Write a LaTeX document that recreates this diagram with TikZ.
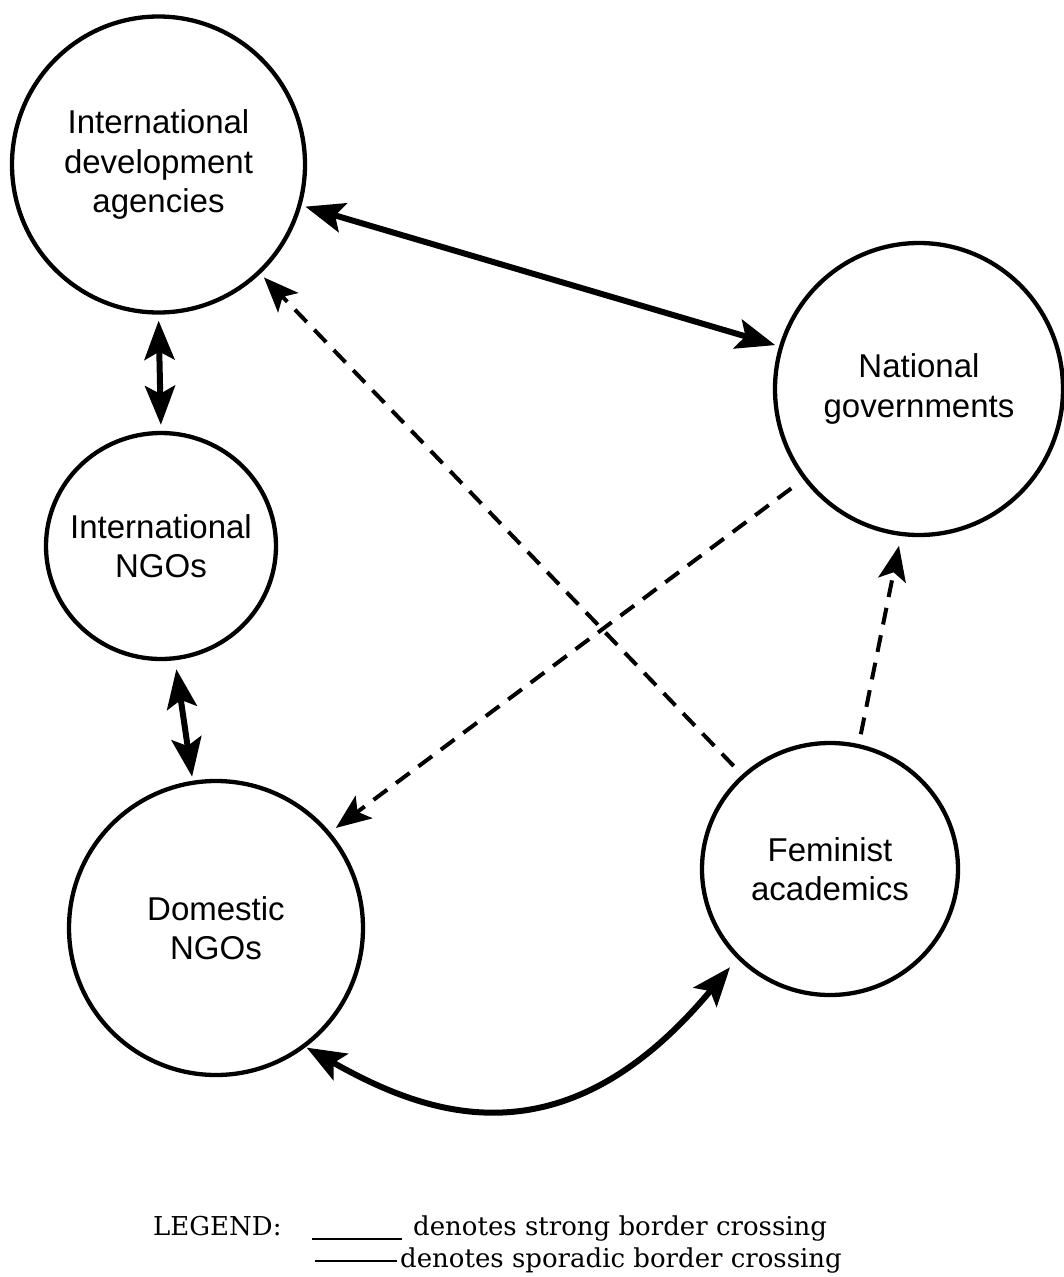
\documentclass[tikz,border=0pt]{standalone}
\usepackage{fontspec}
\newfontfamily\nodefont{Liberation Sans}
\newfontfamily\legendfont{DejaVu Serif}
\usetikzlibrary{arrows.meta,shapes.geometric}
\begin{document}
\begin{tikzpicture}[x=1pt,y=-1pt,
  actor/.style={draw, ellipse, line width=4.3pt, inner sep=0pt},
  lbl/.style={align=center, font=\nodefont\fontsize{33}{39.5}\selectfont, inner sep=0pt},
  strong/.style={line width=6pt, {Stealth[length=39pt,width=30pt,inset=8pt]}-{Stealth[length=39pt,width=30pt,inset=8pt]}},
  weak/.style={line width=4pt, dash pattern=on 17pt off 11pt, -{Stealth[length=35pt,width=28pt,inset=8pt]}},
  legtext/.style={anchor=base west, font=\legendfont\fontsize{26}{30}\selectfont, inner sep=0pt},
  legline/.style={line width=2.7pt}]
\useasboundingbox (0,0) rectangle (1064,1277);

% actors
\node[actor, minimum width=293pt, minimum height=296pt] (ida) at (158.5,164.5) {};
\node[actor, minimum width=288pt, minimum height=292pt] (ng) at (919,389) {};
\node[actor, minimum width=230pt, minimum height=226pt] (ingo) at (161,546) {};
\node[actor, minimum width=294pt, minimum height=294pt] (dngo) at (216,928) {};
\node[actor, minimum width=256pt, minimum height=252pt] (fa) at (830,869) {};

\node[lbl] (ida-t) at (ida) {International\\development\\agencies};
\node[lbl] (ng-t) at (ng) {National\\governments};
\node[lbl] (ingo-t) at (ingo) {International\\NGOs};
\node[lbl] (dngo-t) at (dngo) {Domestic\\NGOs};
\node[lbl] (fa-t) at (fa) {Feminist\\academics};

% strong border crossings
\draw[strong, shorten <=4pt, shorten >=4pt] (ida.-16) -- (ng.163);
\draw[strong, shorten <=6pt, shorten >=6pt] (ida.-90) -- (ingo.90);
\draw[strong, shorten <=9pt, shorten >=4pt] (ingo.-83) -- (dngo.99);
\draw[strong, shorten <=1pt, shorten >=11pt] (dngo.-53) .. controls +(122,69) and +(-173,208) .. (fa.224);

% sporadic border crossings
\draw[weak, shorten <=12pt, shorten >=5pt] (fa.133) -- (ida.-47);
\draw[weak, shorten <=15pt, shorten >=7pt] (ng.218) -- (dngo.40);
\draw[weak, shorten <=10pt, shorten >=10pt] (fa.77) -- (ng.-97);

% legend
\node[legtext] (legend) at (153,1235) {LEGEND:};
\node[legtext] (leg-strong) at (413,1235) {denotes strong border crossing};
\node[legtext] (leg-weak) at (400,1267) {denotes sporadic border crossing};
\coordinate (ls1) at (312,1239);
\coordinate (ls2) at (402,1239);
\coordinate (lw1) at (315,1261);
\coordinate (lw2) at (397,1261);
\draw[legline] (ls1) -- (ls2);
\draw[legline] (lw1) -- (lw2);
\end{tikzpicture}
\end{document}
